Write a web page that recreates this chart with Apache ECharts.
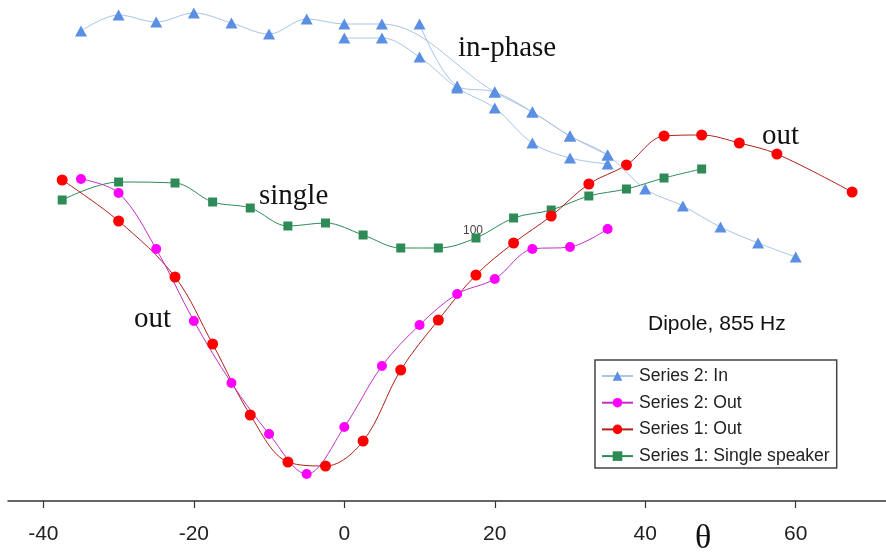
<!DOCTYPE html>
<html>
<head>
<meta charset="utf-8">
<title>Dipole, 855 Hz</title>
<script src="https://cdn.jsdelivr.net/npm/echarts@6/dist/echarts.min.js"></script>
<style>
  html, body { margin: 0; padding: 0; background: #fff; }
  #chart { width: 886px; height: 552px; }
</style>
</head>
<body>
<div id="chart"></div>
<script>
// Angle ticks shown on the θ axis
const thetaTicks = [-40, -20, 0, 20, 40, 60];

// Series 2: In (three sweeps, relative level)
const inA_theta = [-35, -30, -25, -20, -15, -10, -5, 0, 5, 20, 25, 30, 35, 40, 45, 50, 55, 60];
const inA_level = [47.0, 48.6, 47.9, 48.8, 47.8, 46.7, 48.2, 47.7, 47.7, 40.9, 38.9, 36.5, 34.6, 31.2, 29.5, 27.4, 25.8, 24.4];
const inB_theta = [0, 5, 10, 15, 20, 25, 30, 35];
const inB_level = [46.3, 46.3, 44.4, 41.3, 39.3, 35.8, 34.3, 33.7];
const inC_theta = [10, 15, 20, 25, 30, 35];
const inC_level = [47.7, 41.5, 40.9, 38.9, 36.5, 34.6];

// Series 2: Out
const out2_theta = [-35, -30, -25, -20, -15, -10, -5, 0, 5, 10, 15, 20, 25, 30, 35];
const out2_level = [32.2, 30.8, 25.2, 18.0, 11.8, 6.7, 2.7, 7.4, 13.5, 17.6, 20.7, 22.2, 25.2, 25.4, 27.2];

// Series 1: Out
const out1_theta = [-37.5, -30, -22.5, -17.5, -12.5, -7.5, -2.5, 2.5, 7.5, 12.5, 17.5, 22.5, 27.5, 32.5, 37.5, 42.5, 47.5, 52.5, 57.5, 67.5];
const out1_level = [32.1, 28.0, 22.4, 15.7, 8.6, 3.9, 3.5, 6.0, 13.1, 18.1, 22.6, 25.8, 28.5, 31.7, 33.6, 36.5, 36.6, 35.8, 34.7, 30.9];

// Series 1: Single speaker
const single_theta = [-37.5, -30, -22.5, -17.5, -12.5, -7.5, -2.5, 2.5, 7.5, 12.5, 17.5, 22.5, 27.5, 32.5, 37.5, 42.5, 47.5];
const single_level = [30.1, 31.9, 31.8, 29.9, 29.3, 27.5, 27.8, 26.6, 25.3, 25.3, 26.3, 28.3, 29.1, 30.5, 31.2, 32.3, 33.2];

const zip = (xs, ys) => xs.map((x, i) => [x, ys[i]]);

const inStyle = {
  name: 'Series 2: In', type: 'line', smooth: 0.35,
  symbol: 'triangle', symbolSize: [12, 11],
  itemStyle: { color: '#5b8fe4' },
  lineStyle: { color: '#a9c4e8', width: 1 },
  z: 3
};

const serifFont = '29px "Liberation Serif", serif';

const chart = echarts.init(document.getElementById('chart'), null, { renderer: 'canvas' });

chart.setOption({
  animation: false,
  backgroundColor: '#ffffff',
  grid: { left: 8, right: 0, top: 1, bottom: 51, containLabel: false },
  xAxis: {
    type: 'value', min: -44.7, max: 72,
    splitLine: { show: false },
    axisLine: { show: true, onZero: false, lineStyle: { color: '#333', width: 1.5 } },
    axisTick: { show: true, inside: false, length: 7, customValues: thetaTicks, lineStyle: { color: '#333', width: 1.2 } },
    axisLabel: { customValues: thetaTicks, margin: 23, color: '#222', fontFamily: 'Liberation Sans, Arial, sans-serif', fontSize: 21 }
  },
  yAxis: {
    type: 'value', min: 0, max: 50, show: false
  },
  legend: {
    orient: 'vertical',
    left: 595, top: 360,
    data: ['Series 2: In', 'Series 2: Out', 'Series 1: Out', 'Series 1: Single speaker'],
    itemWidth: 31, itemHeight: 12, itemGap: 6.7,
    padding: [6, 7, 2, 6],
    borderColor: '#444', borderWidth: 1.5, borderRadius: 0,
    backgroundColor: '#fff',
    textStyle: { color: '#222', fontFamily: 'Liberation Sans, Arial, sans-serif', fontSize: 17.6, lineHeight: 20, padding: [0, 0, 0, 1] }
  },
  graphic: [
    { type: 'text', left: 458, top: 34, style: { text: 'in-phase', font: serifFont, fill: '#111' } },
    { type: 'text', left: 259, top: 182, style: { text: 'single', font: serifFont, fill: '#111' } },
    { type: 'text', left: 134, top: 305, style: { text: 'out', font: serifFont, fill: '#111' } },
    { type: 'text', left: 762, top: 122, style: { text: 'out', font: serifFont, fill: '#111' } },
    { type: 'text', left: 463, top: 225, style: { text: '100', font: '12px "Liberation Sans", Arial, sans-serif', fill: '#444' } },
    { type: 'text', left: 648, top: 314, style: { text: 'Dipole, 855 Hz', font: '21px "Liberation Sans", Arial, sans-serif', fill: '#111' } },
    { type: 'text', left: 695, top: 522, style: { text: 'θ', font: '34px "Liberation Serif", serif', fill: '#111' } }
  ],
  series: [
    {
      name: 'Series 1: Single speaker', type: 'line', smooth: 0.35,
      symbol: 'rect', symbolSize: 9,
      itemStyle: { color: '#2e8b57' },
      lineStyle: { color: '#2e8b57', width: 1 },
      data: zip(single_theta, single_level), z: 2
    },
    {
      name: 'Series 1: Out', type: 'line', smooth: 0.35,
      symbol: 'circle', symbolSize: 11,
      itemStyle: { color: '#ff0000' },
      lineStyle: { color: '#b0201a', width: 1 },
      data: zip(out1_theta, out1_level), z: 2
    },
    {
      name: 'Series 2: Out', type: 'line', smooth: 0.35,
      symbol: 'circle', symbolSize: 10,
      itemStyle: { color: '#ff00ff' },
      lineStyle: { color: '#c030c8', width: 1 },
      data: zip(out2_theta, out2_level), z: 2
    },
    Object.assign({ data: zip(inA_theta, inA_level) }, inStyle),
    Object.assign({ data: zip(inB_theta, inB_level) }, inStyle),
    Object.assign({ data: zip(inC_theta, inC_level) }, inStyle)
  ]
});
</script>
</body>
</html>
